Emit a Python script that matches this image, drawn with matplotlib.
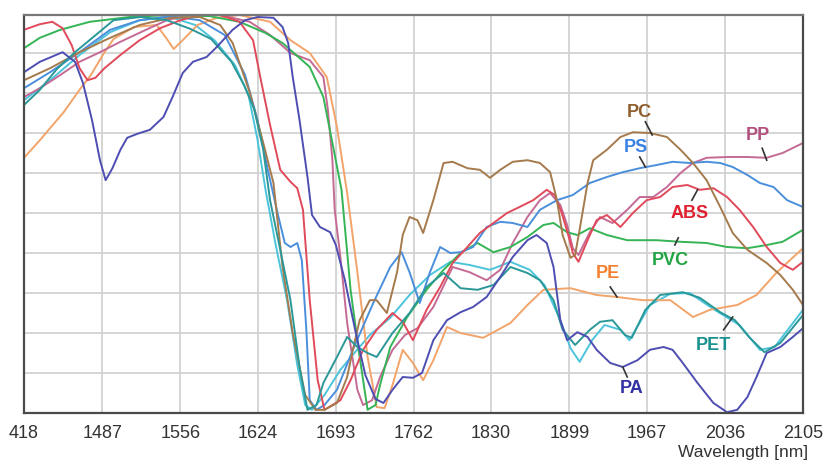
import matplotlib
matplotlib.use('Agg')
import matplotlib.pyplot as plt

plt.rcParams['font.family'] = ['Liberation Sans', 'DejaVu Sans']

# tick labels as printed on the original chart
tick_nm = [1418, 1487, 1556, 1624, 1693, 1762, 1830, 1899, 1967, 2036, 2105]
tick_labels = ['418', '1487', '1556', '1624', '1693', '1762', '1830', '1899', '1967', '2036', '2105']

# spectra: wavelength [nm], reflectance [a.u. 0-100]
pa_x = [1418, 1432, 1452, 1463, 1470, 1478, 1485, 1490, 1496, 1503, 1509, 1518, 1529, 1541, 1549, 1558,
        1567, 1579, 1588, 1602, 1613, 1624, 1638, 1646, 1651, 1655, 1661, 1668, 1672, 1679, 1688, 1693,
        1701, 1710, 1719, 1728, 1735, 1743, 1752, 1761, 1769, 1779, 1791, 1803, 1814, 1826, 1838, 1849,
        1862, 1870, 1879, 1885, 1891, 1897, 1906, 1915, 1923, 1935, 1946, 1959, 1970, 1982, 1990, 1999,
        2012, 2026, 2038, 2047, 2056, 2064, 2073, 2085, 2096, 2105]
pa_y = [85.2, 87.8, 90.2, 87.8, 82.5, 73.2, 63.2, 58.2, 61.2, 65.8, 68.8, 69.8, 70.8, 74.0, 79.0, 85.0,
        87.8, 89.0, 91.5, 95.8, 98.2, 99.0, 98.8, 96.5, 92.5, 84.0, 73.2, 59.0, 49.5, 46.5, 45.2, 42.0,
        33.2, 20.8, 9.5, 3.5, 2.5, 5.8, 9.0, 8.8, 10.0, 18.2, 23.2, 25.2, 26.5, 29.0, 34.0, 39.0,
        43.2, 44.5, 42.5, 36.5, 23.2, 18.2, 20.2, 19.0, 15.8, 12.5, 11.5, 13.2, 15.8, 16.5, 15.8, 12.5,
        7.5, 2.5, 0.2, 0.8, 4.0, 9.0, 15.0, 16.5, 19.0, 21.2]

pc_x = [1418, 1441, 1467, 1494, 1520, 1547, 1573, 1591, 1602, 1617, 1629, 1638, 1646, 1655, 1666, 1675,
        1683, 1694, 1703, 1708, 1714, 1723, 1729, 1738, 1747, 1752, 1758, 1765, 1770, 1779, 1788, 1796,
        1809, 1820, 1829, 1838, 1849, 1862, 1873, 1882, 1888, 1893, 1900, 1904, 1908, 1915, 1920, 1932,
        1944, 1955, 1970, 1985, 1997, 2008, 2020, 2032, 2043, 2056, 2073, 2085, 2096, 2105]
pc_y = [83.2, 86.2, 90.2, 93.8, 97.0, 98.8, 99.0, 97.0, 92.5, 80.2, 67.5, 57.5, 36.5, 20.0, 4.5, 0.8,
        0.8, 2.5, 9.0, 15.8, 23.2, 28.2, 28.2, 25.0, 35.2, 44.5, 49.0, 48.2, 45.0, 53.2, 62.5, 62.8,
        61.2, 60.8, 58.8, 60.8, 62.8, 63.2, 62.5, 60.2, 53.2, 44.5, 38.8, 39.5, 45.8, 57.5, 63.2, 65.8,
        69.0, 70.2, 70.0, 69.0, 65.8, 62.5, 58.2, 51.5, 45.0, 40.8, 37.5, 34.5, 30.8, 27.0]

ps_x = [1418, 1441, 1467, 1494, 1520, 1547, 1573, 1595, 1613, 1624, 1633, 1642, 1648, 1653, 1659, 1663,
        1667, 1670, 1676, 1683, 1694, 1708, 1726, 1741, 1751, 1758, 1767, 1776, 1785, 1794, 1803, 1814,
        1826, 1838, 1849, 1862, 1873, 1888, 1902, 1917, 1932, 1946, 1961, 1976, 1990, 2005, 2020, 2032,
        2043, 2056, 2067, 2079, 2091, 2105]
ps_y = [81.2, 85.2, 90.2, 95.8, 98.2, 99.2, 98.2, 94.5, 84.5, 73.2, 60.8, 49.5, 42.5, 41.5, 42.5, 38.2,
        20.8, 3.2, 0.8, 2.0, 5.8, 15.8, 27.5, 36.5, 40.2, 35.2, 27.5, 35.2, 41.5, 40.0, 40.2, 41.5,
        46.5, 47.8, 47.5, 46.5, 50.8, 53.2, 54.5, 57.5, 59.0, 60.2, 61.2, 62.0, 62.8, 62.5, 62.8, 62.5,
        61.5, 59.5, 57.5, 56.5, 53.2, 51.5]

pp_x = [1418, 1432, 1450, 1467, 1485, 1503, 1521, 1544, 1564, 1591, 1617, 1635, 1653, 1670, 1682, 1686,
        1690, 1692, 1697, 1703, 1712, 1717, 1725, 1732, 1743, 1754, 1765, 1779, 1796, 1811, 1826, 1838,
        1849, 1862, 1873, 1882, 1891, 1897, 1902, 1907, 1917, 1926, 1937, 1950, 1961, 1973, 1985, 1997,
        2008, 2020, 2038, 2056, 2073, 2087, 2105]
pp_y = [79.0, 81.2, 84.5, 87.8, 90.2, 92.8, 95.2, 98.2, 99.5, 99.5, 97.8, 94.5, 90.0, 88.2, 84.0, 75.8,
        63.2, 50.8, 39.0, 22.5, 5.8, 2.0, 3.2, 9.0, 15.8, 19.5, 21.2, 26.5, 36.5, 35.2, 33.2, 35.8,
        42.5, 49.0, 53.2, 55.0, 52.0, 47.0, 41.2, 39.5, 45.2, 49.0, 47.5, 50.8, 54.0, 54.0, 56.5, 60.0,
        62.5, 63.8, 64.0, 64.0, 63.8, 65.0, 67.5]

abs_x = [1418, 1432, 1443, 1452, 1460, 1467, 1474, 1481, 1489, 1503, 1520, 1538, 1556, 1573, 1591, 1608,
         1620, 1626, 1635, 1644, 1653, 1659, 1664, 1670, 1677, 1683, 1697, 1706, 1717, 1729, 1743, 1752,
         1761, 1773, 1785, 1796, 1809, 1820, 1832, 1844, 1855, 1867, 1879, 1886, 1892, 1898, 1902, 1907,
         1915, 1923, 1932, 1944, 1955, 1967, 1979, 1990, 2003, 2014, 2026, 2038, 2049, 2061, 2073, 2085,
         2096, 2105]
abs_y = [95.8, 97.2, 97.8, 96.2, 92.0, 86.2, 83.2, 83.8, 86.2, 89.5, 93.2, 96.2, 98.2, 99.5, 99.5, 97.8,
         93.2, 84.5, 72.0, 60.8, 57.8, 56.2, 50.8, 28.2, 8.2, 0.8, 3.2, 8.2, 15.8, 20.8, 25.0, 22.8,
         18.2, 25.8, 31.5, 37.5, 41.5, 45.0, 47.5, 50.0, 51.5, 53.2, 55.8, 54.5, 50.2, 44.5, 40.0, 37.8,
         43.2, 48.2, 49.5, 46.5, 50.0, 53.2, 54.0, 56.5, 57.0, 55.8, 56.2, 54.0, 50.8, 46.5, 41.5, 37.5,
         35.8, 37.8]

pvc_x = [1418, 1432, 1450, 1476, 1511, 1547, 1582, 1608, 1631, 1646, 1670, 1682, 1690, 1698, 1706, 1714,
         1721, 1728, 1732, 1741, 1756, 1773, 1788, 1803, 1818, 1832, 1847, 1862, 1876, 1885, 1897, 1906,
         1917, 1932, 1950, 1976, 1997, 2020, 2038, 2056, 2073, 2087, 2105]
pvc_y = [91.2, 93.8, 95.8, 97.8, 99.0, 99.5, 99.2, 97.8, 95.0, 92.5, 86.5, 79.0, 67.5, 55.8, 30.8, 14.0,
         0.8, 2.0, 7.0, 16.5, 24.0, 30.8, 35.8, 40.0, 42.5, 40.2, 41.5, 44.0, 47.0, 47.5, 45.2, 44.5,
         46.2, 44.5, 43.2, 43.2, 42.8, 42.5, 41.5, 41.2, 42.0, 42.8, 45.8]

pe_x = [1418, 1432, 1453, 1467, 1477, 1489, 1497, 1515, 1535, 1544, 1550, 1559, 1571, 1588, 1608, 1635,
        1653, 1670, 1685, 1694, 1703, 1712, 1721, 1729, 1736, 1743, 1752, 1761, 1770, 1779, 1791, 1803,
        1823, 1847, 1862, 1876, 1900, 1923, 1941, 1964, 1988, 2008, 2023, 2047, 2064, 2082, 2105]
pe_y = [63.8, 68.2, 75.2, 80.8, 84.5, 90.2, 93.5, 96.5, 97.0, 93.5, 91.0, 93.5, 97.0, 98.8, 99.5, 97.8,
        93.2, 90.0, 84.0, 71.5, 55.0, 35.2, 14.0, 1.5, 1.2, 7.0, 15.8, 12.5, 8.2, 13.2, 21.5, 20.0,
        18.8, 22.5, 27.0, 30.8, 31.2, 29.5, 29.0, 28.2, 28.2, 24.0, 25.8, 27.0, 29.5, 35.2, 41.2]

pet_x = [1418, 1432, 1447, 1463, 1477, 1497, 1521, 1544, 1565, 1583, 1601, 1612, 1621, 1629, 1635, 1644,
         1653, 1661, 1668, 1676, 1682, 1694, 1703, 1712, 1721, 1729, 1743, 1758, 1773, 1788, 1803, 1818,
         1832, 1847, 1862, 1873, 1885, 1893, 1904, 1917, 1926, 1937, 1948, 1954, 1966, 1979, 1999, 2014,
         2032, 2045, 2058, 2071, 2085, 2105]
pet_y = [77.0, 80.8, 86.0, 90.2, 93.5, 98.2, 99.0, 98.2, 96.0, 93.5, 87.8, 82.0, 76.0, 65.8, 53.2, 40.8,
         28.2, 11.5, 0.8, 2.0, 7.5, 14.0, 19.0, 16.5, 15.0, 14.0, 20.0, 25.0, 31.5, 35.0, 31.2, 30.8,
         32.0, 36.5, 35.0, 33.2, 28.2, 20.8, 17.0, 20.8, 22.8, 23.2, 19.5, 18.8, 25.8, 29.5, 30.2, 28.8,
         25.2, 23.2, 18.8, 15.2, 17.5, 24.5]

# unlabelled light cyan trace
cy_x = [1418, 1441, 1467, 1494, 1520, 1547, 1569, 1586, 1604, 1616, 1624, 1631, 1640, 1650, 1659, 1666,
        1672, 1683, 1697, 1710, 1723, 1741, 1758, 1776, 1794, 1811, 1829, 1847, 1864, 1877, 1891, 1900,
        1908, 1919, 1930, 1944, 1952, 1970, 1988, 2005, 2027, 2049, 2067, 2080, 2105]
cy_y = [78.2, 83.2, 89.5, 95.2, 98.2, 99.0, 97.0, 93.2, 87.0, 79.5, 68.2, 55.8, 42.0, 28.2, 12.0, 2.0,
        0.8, 4.5, 10.8, 15.2, 19.5, 23.8, 29.5, 34.5, 37.8, 37.0, 35.8, 37.8, 35.8, 32.0, 23.2, 16.2,
        12.8, 18.2, 22.0, 20.8, 18.2, 27.0, 29.8, 30.0, 25.8, 22.0, 15.8, 16.5, 25.8]

series = [
    (cy_x, cy_y, '#4cc4dc'),
    (pe_x, pe_y, '#f2a46a'),
    (pp_x, pp_y, '#c46a94'),
    (pvc_x, pvc_y, '#35b455'),
    (ps_x, ps_y, '#4a8fdc'),
    (abs_x, abs_y, '#e04a5a'),
    (pc_x, pc_y, '#a57a4c'),
    (pet_x, pet_y, '#2a9898'),
    (pa_x, pa_y, '#4e4eb2'),
]

# label text, text position, pointer start/end, colour
labels = [
    ('PC', (1961, 75.2), (1966, 72.8), (1972, 69.5), '#8e5e2e'),
    ('PS', (1958, 66.5), (1961, 64.0), (1966, 61.5), '#3a82e2'),
    ('PP', (2065, 69.5), (2069, 66.2), (2073, 63.2), '#b2507e'),
    ('ABS', (2005, 50.0), (2007, 53.2), (2012, 55.8), '#e0202e'),
    ('PVC', (1988, 38.2), (1992, 42.0), (1995, 43.8), '#22a442'),
    ('PE', (1933, 35.0), (1935, 31.5), (1941, 29.0), '#f28232'),
    ('PET', (2026, 17.0), (2035, 20.8), (2043, 24.0), '#1a9090'),
    ('PA', (1954, 6.2), (1950, 9.0), (1946, 11.5), '#3232a2'),
]

fig = plt.figure(figsize=(8.29, 4.63), dpi=100)
ax = fig.add_axes([24 / 829, 50 / 463, 779 / 829, 398 / 463])

for x, y, c in series:
    ax.plot(x, y, color=c, lw=1.4, solid_joinstyle='round')

for txt, pos, p0, p1, c in labels:
    ax.text(pos[0], pos[1], txt, color=c, fontsize=13, fontweight='bold', ha='center', va='center')
    ax.plot([p0[0], p1[0]], [p0[1], p1[1]], color='#333333', lw=1.2)

ax.set_xlim(1418, 2105)
ax.set_ylim(0, 99.5)
ax.set_xticks(tick_nm)
ax.set_xticklabels(tick_labels, fontsize=13, color='#333333')
ax.set_yticks(range(0, 100, 10))
ax.set_yticklabels([])
ax.tick_params(length=0, pad=9)
ax.grid(True, color='#d2d2d2', lw=1.3)
ax.set_axisbelow(True)
for s in ax.spines.values():
    s.set_color('#4a4a4a')
    s.set_linewidth(1.6)
ax.spines['top'].set_color('#777777')

fig.text(808 / 829, 11 / 463, 'Wavelength [nm]', ha='right', va='center', fontsize=12.5, color='#333333')

plt.savefig('out.png', dpi=100)
